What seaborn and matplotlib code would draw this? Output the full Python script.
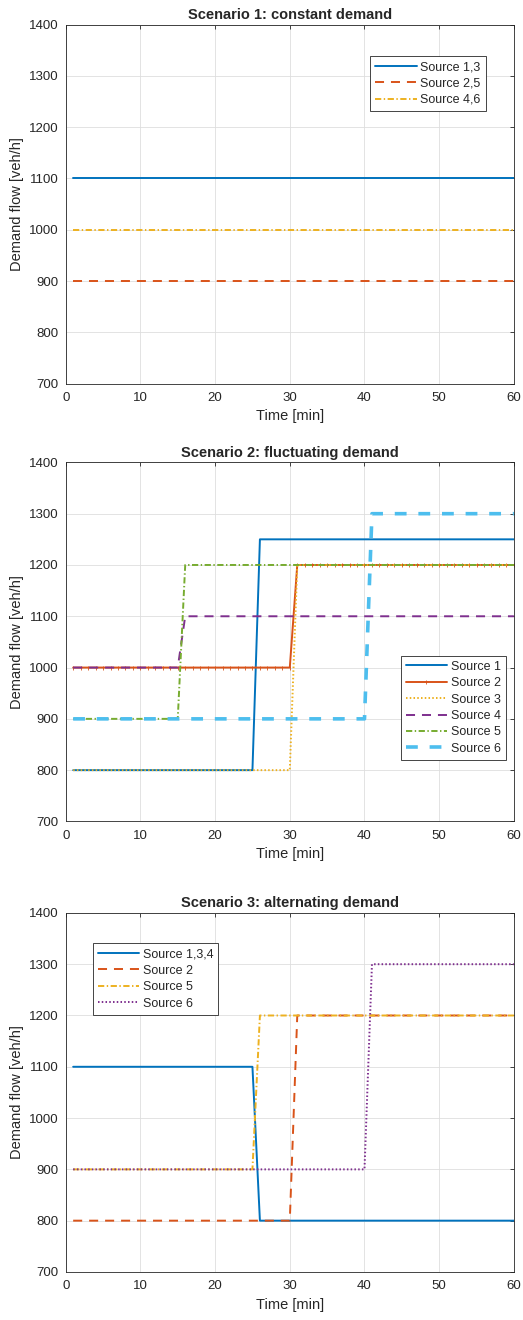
import matplotlib
matplotlib.use("Agg")
import matplotlib.pyplot as plt
import seaborn as sns

# time axis (one sample per minute)
minutes = list(range(1, 61))

# Scenario 1: constant demand
s1_src13 = [1100] * 60
s1_src25 = [900] * 60
s1_src46 = [1000] * 60

# Scenario 2: fluctuating demand
s2_src1 = [800] * 25 + [1250] * 35
s2_src2 = [1000] * 30 + [1200] * 30
s2_src3 = [800] * 30 + [1200] * 30
s2_src4 = [1000] * 15 + [1100] * 45
s2_src5 = [900] * 15 + [1200] * 45
s2_src6 = [900] * 40 + [1300] * 20

# Scenario 3: alternating demand
s3_src134 = [1100] * 25 + [800] * 35
s3_src2 = [800] * 30 + [1200] * 30
s3_src5 = [900] * 25 + [1200] * 35
s3_src6 = [900] * 40 + [1300] * 20

titles = ['Scenario 1: constant demand',
          'Scenario 2: fluctuating demand',
          'Scenario 3: alternating demand']

# matlab default colours
BLUE, ORANGE, YELLOW = '#0072BD', '#D95319', '#EDB120'
PURPLE, GREEN, CYAN = '#7E2F8E', '#77AC30', '#4DBEEE'

SOLID = '-'
DASH = (0, (6.5, 5.0))
DASHDOT = (0, (4.5, 1.8, 1.0, 1.8))
DOT = (0, (1.1, 1.6))
THICKDASH = (0, (8.5, 8.5))

sns.set_theme(style='whitegrid')
plt.rcParams['font.family'] = ['Liberation Sans', 'DejaVu Sans']
plt.rcParams['lines.scale_dashes'] = False
plt.rcParams['axes.edgecolor'] = '#262626'
plt.rcParams['axes.linewidth'] = 0.6
plt.rcParams['grid.color'] = '#dedede'
plt.rcParams['grid.linewidth'] = 0.6


def draw(ax, y, label, color, ls, lw=1.4, marker=None):
    sns.lineplot(x=minutes, y=y, ax=ax, color=color, linestyle=ls,
                 linewidth=lw, label=label, marker=marker, markersize=3,
                 markeredgewidth=0.6, markeredgecolor=color, estimator=None)


def style_axis(ax, title):
    ax.set_xlim(0, 60)
    ax.set_ylim(700, 1400)
    ax.set_xticks(range(0, 61, 10))
    ax.set_yticks(range(700, 1401, 100))
    ax.tick_params(direction='in', top=True, right=True, length=3,
                   width=0.6, color='#262626', labelsize=9.5,
                   labelcolor='#262626')
    ax.tick_params(axis='x', pad=6)
    ax.tick_params(axis='y', pad=5)
    ax.set_title(title, fontsize=10.5, fontweight='bold', pad=4)
    ax.set_xlabel('Time [min]', fontsize=10.5, color='#262626', labelpad=4)
    ax.set_ylabel('Demand flow [veh/h]', fontsize=10.5, color='#262626',
                  labelpad=4)
    for sp in ax.spines.values():
        sp.set_visible(True)
        sp.set_color('#262626')


def legend(ax, loc, anchor):
    leg = ax.legend(loc=loc, bbox_to_anchor=anchor, fontsize=9,
                    fancybox=False, framealpha=1, edgecolor='#262626',
                    handlelength=3.3, handletextpad=0.3, labelspacing=0.35,
                    borderpad=0.4, borderaxespad=0)
    leg.get_frame().set_linewidth(0.6)


fig = plt.figure(figsize=(5.23, 13.2), dpi=100)
left, width, height = 0.1256, 0.857, 0.272
ax1 = fig.add_axes([left, 0.7094, width, height])
ax2 = fig.add_axes([left, 0.3777, width, height])
ax3 = fig.add_axes([left, 0.0364, width, height])

draw(ax1, s1_src13, 'Source 1,3', BLUE, SOLID)
draw(ax1, s1_src25, 'Source 2,5', ORANGE, DASH)
draw(ax1, s1_src46, 'Source 4,6', YELLOW, DASHDOT)
style_axis(ax1, titles[0])
legend(ax1, 'upper right', (0.937, 0.912))

draw(ax2, s2_src1, 'Source 1', BLUE, SOLID)
draw(ax2, s2_src2, 'Source 2', ORANGE, SOLID, marker='|')
draw(ax2, s2_src3, 'Source 3', YELLOW, DOT)
draw(ax2, s2_src4, 'Source 4', PURPLE, DASH)
draw(ax2, s2_src5, 'Source 5', GREEN, DASHDOT)
draw(ax2, s2_src6, 'Source 6', CYAN, THICKDASH, lw=2.6)
style_axis(ax2, titles[1])
legend(ax2, 'lower right', (0.9815, 0.172))

draw(ax3, s3_src134, 'Source 1,3,4', BLUE, SOLID)
draw(ax3, s3_src2, 'Source 2', ORANGE, DASH)
draw(ax3, s3_src5, 'Source 5', YELLOW, DASHDOT)
draw(ax3, s3_src6, 'Source 6', PURPLE, DOT)
style_axis(ax3, titles[2])
legend(ax3, 'upper left', (0.06, 0.915))

fig.savefig('out.png', dpi=100)
plt.close(fig)
